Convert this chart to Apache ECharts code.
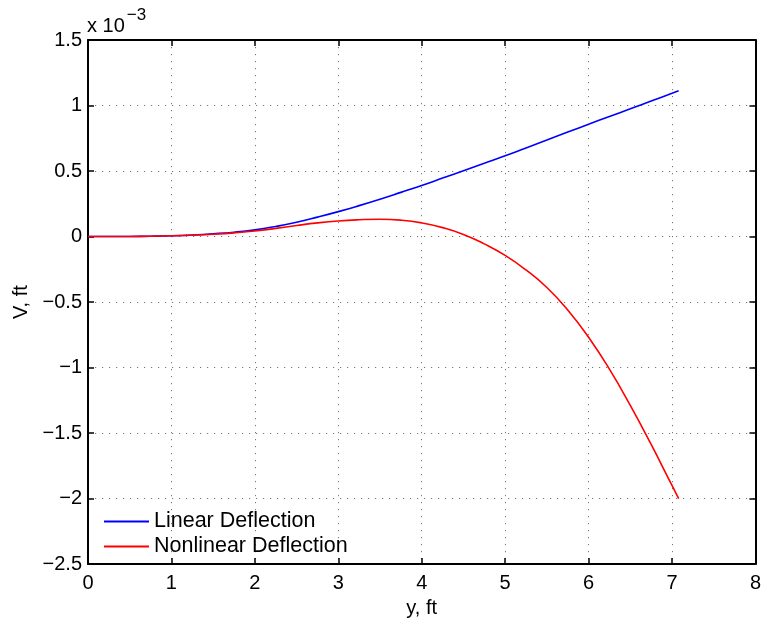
<!DOCTYPE html>
<html>
<head>
<meta charset="utf-8">
<script src="https://cdn.jsdelivr.net/npm/echarts@6/dist/echarts.min.js"></script>
<style>
html,body{margin:0;padding:0;background:#fff;}
#chart{width:764px;height:623px;}
</style>
</head>
<body>
<div id="chart"></div>
<script>
// y position along beam, ft
const xVals = [0, 0.25, 0.5, 0.75, 1.0, 1.25, 1.5, 1.75, 2.0, 2.25, 2.5, 2.75, 3.0, 3.25, 3.5, 3.75, 4.0, 4.25, 4.5, 4.75, 5.0, 5.25, 5.5, 5.75, 6.0, 6.25, 6.5, 6.75, 7.0, 7.08];
// deflection V, units of 1e-3 ft
const linearDeflection = [0, 0.0001, 0.0007, 0.0025, 0.006, 0.012, 0.021, 0.033, 0.051, 0.077, 0.109, 0.148, 0.19, 0.236, 0.285, 0.337, 0.39, 0.446, 0.502, 0.559, 0.616, 0.676, 0.736, 0.797, 0.857, 0.916, 0.975, 1.034, 1.093, 1.112];
const nonlinearDeflection = [0, 0.0001, 0.0007, 0.0025, 0.006, 0.011, 0.018, 0.028, 0.042, 0.062, 0.084, 0.104, 0.119, 0.128, 0.132, 0.125, 0.104, 0.068, 0.016, -0.056, -0.144, -0.255, -0.389, -0.56, -0.768, -1.012, -1.289, -1.587, -1.9, -2.0];
const seriesNames = ['Linear Deflection', 'Nonlinear Deflection'];
const xTicks = [0, 1, 2, 3, 4, 5, 6, 7, 8];
const yTicks = [-2.5, -2, -1.5, -1, -0.5, 0, 0.5, 1, 1.5];

const FONT = '"Liberation Sans", Arial, Helvetica, sans-serif';
const fmt = v => (v < 0 ? '\u2212' + Math.abs(v) : String(v));

const chart = echarts.init(document.getElementById('chart'), null, {renderer: 'canvas'});
const grid = {left: 88, top: 40, width: 669, height: 527};
const axisLine = {show: true, onZero: false, lineStyle: {color: '#000', width: 2}};
const tick = {show: true, inside: true, length: 6, lineStyle: {color: '#000', width: 1.5}};
const split = {show: true, lineStyle: {color: '#777', type: [1.2, 5.8], width: 1}};

chart.setOption({
  animation: false,
  backgroundColor: '#fff',
  grid: grid,
  xAxis: [{
    type: 'value', min: xTicks[0], max: xTicks[xTicks.length - 1], interval: 1,
    position: 'bottom',
    axisLine: axisLine, axisTick: tick, splitLine: split,
    axisLabel: {color: '#000', fontSize: 20, fontFamily: FONT, margin: 9, formatter: fmt},
    name: 'y, ft', nameLocation: 'middle', nameGap: 32,
    nameTextStyle: {color: '#000', fontSize: 20, fontFamily: FONT, verticalAlign: 'top'}
  }, {
    type: 'value', min: xTicks[0], max: xTicks[xTicks.length - 1], interval: 1,
    position: 'top',
    axisLine: axisLine, axisTick: tick, splitLine: {show: false}, axisLabel: {show: false}
  }],
  yAxis: [{
    type: 'value', min: yTicks[0], max: yTicks[yTicks.length - 1], interval: 0.5,
    position: 'left',
    axisLine: axisLine, axisTick: tick, splitLine: split,
    axisLabel: {color: '#000', fontSize: 20, fontFamily: FONT, margin: 6, formatter: fmt},
    name: 'V, ft', nameLocation: 'middle', nameGap: 55,
    nameTextStyle: {color: '#000', fontSize: 20, fontFamily: FONT}
  }, {
    type: 'value', min: yTicks[0], max: yTicks[yTicks.length - 1], interval: 0.5,
    position: 'right',
    axisLine: axisLine, axisTick: tick, splitLine: {show: false}, axisLabel: {show: false}
  }],
  legend: {
    orient: 'vertical', left: 99, top: 505,
    icon: 'rect', itemWidth: 45, itemHeight: 2, itemGap: 2,
    textStyle: {color: '#000', fontSize: 21.5, fontFamily: FONT, lineHeight: 23},
    data: seriesNames
  },
  graphic: [{
    type: 'text', left: 87, top: 7,
    style: {
      text: '{a|x 10}{b|\u22123}',
      rich: {
        a: {fontSize: 20, fontFamily: FONT, fill: '#000', padding: [12, 0, 0, 0]},
        b: {fontSize: 17, fontFamily: FONT, fill: '#000', padding: [0, 0, 10, 2]}
      }
    }
  }],
  series: [{
    name: seriesNames[0], type: 'line', showSymbol: false, symbol: 'none',
    smooth: 0.5,
    lineStyle: {color: '#0000ff', width: 1.6}, itemStyle: {color: '#0000ff'},
    data: xVals.map((x, i) => [x, linearDeflection[i]])
  }, {
    name: seriesNames[1], type: 'line', showSymbol: false, symbol: 'none',
    smooth: 0.5,
    lineStyle: {color: '#ff0000', width: 1.6}, itemStyle: {color: '#ff0000'},
    data: xVals.map((x, i) => [x, nonlinearDeflection[i]])
  }]
});
</script>
</body>
</html>
